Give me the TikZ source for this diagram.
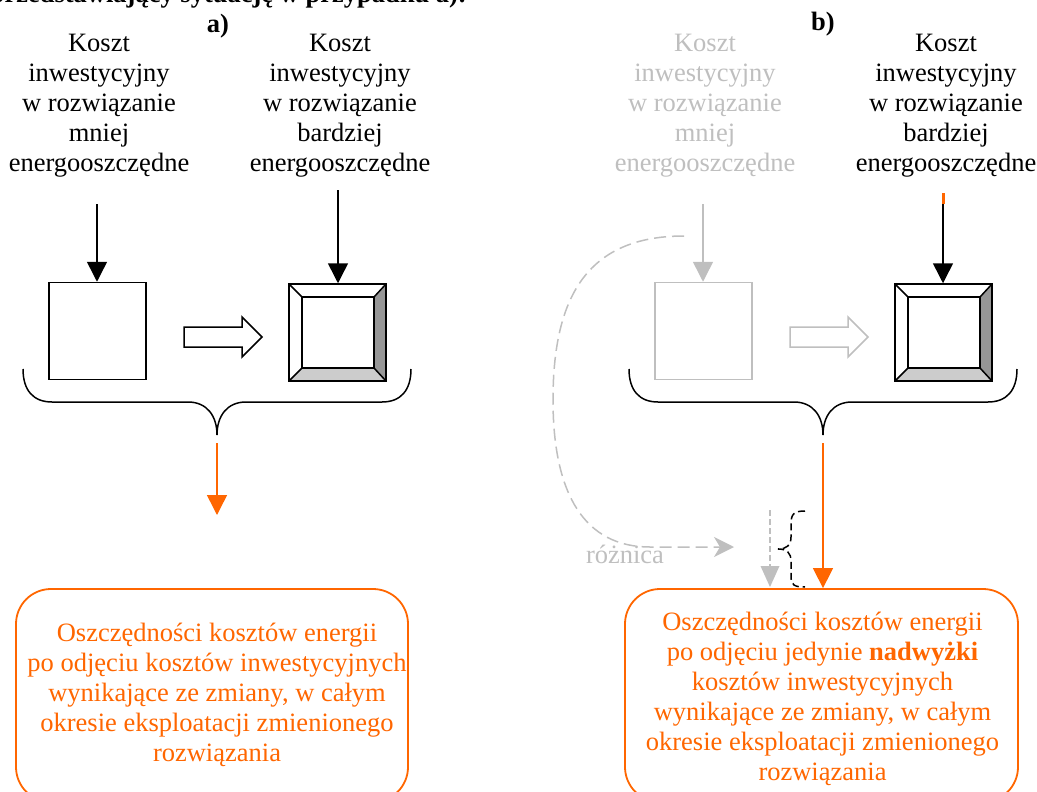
\documentclass[tikz,border=0pt]{standalone}
\usepackage{fontspec}
\setmainfont{Liberation Serif}
\usetikzlibrary{arrows.meta}
\definecolor{org}{HTML}{FF6600}
\definecolor{lg}{HTML}{BFBFBF}
\definecolor{dg}{HTML}{969696}
\definecolor{mg}{HTML}{CCCCCC}
\begin{document}
\begin{tikzpicture}[x=1pt,y=-1pt,line join=miter,
  txt/.style={align=center,inner sep=0pt,font=\fontsize{26.5}{30}\selectfont,anchor=base},
  ttl/.style={inner sep=0pt,font=\fontsize{26.5}{30}\selectfont\bfseries,anchor=base},
  arr/.style={line width=1.5pt,-{Triangle[length=20pt,width=20pt]}},
  sq/.style={draw,line width=1.5pt,inner sep=0pt,minimum width=97pt,minimum height=97pt},
  obox/.style={draw=org,line width=1.8pt,rounded corners=35pt,inner sep=0pt,minimum height=213pt},
  otxt/.style={txt,text=org},
  brc/.style={line width=1.5pt}]
\useasboundingbox (0,0) rectangle (1037,792);
% cut-off heading line at the top
\node[ttl,anchor=base east] (head) at (467,3) {Schemat przedstawiający sytuację w przypadku a):};
\node[ttl] (ta) at (218,33) {a)};
\node[ttl] (tb) at (823,31) {b)};
% ---------- labels (base = last line)
\node[txt] (l1) at (99,171) {Koszt\\inwestycyjny\\w rozwiązanie\\mniej\\energooszczędne};
\node[txt] (l2) at (340,171) {Koszt\\inwestycyjny\\w rozwiązanie\\bardziej\\energooszczędne};
\node[txt,text=lg] (l3) at (705,171) {Koszt\\inwestycyjny\\w rozwiązanie\\mniej\\energooszczędne};
\node[txt] (l4) at (946,171) {Koszt\\inwestycyjny\\w rozwiązanie\\bardziej\\energooszczędne};
% ---------- panel a
\node[sq] (s1) at (97.5,331) {};
\node[sq] (s2) at (337.5,332.5) {};
\coordinate (a1) at (97,204);
\coordinate (a2) at (338,190);
\draw[arr] (a1) -- (a1 |- s1.north);
\draw[arr] (a2) -- (a2 |- s2.north);
\draw[line width=1.5pt] (184,327) -- (242,327) -- (242,317) -- (262,337) -- (242,357) -- (242,347) -- (184,347) -- cycle;
% ---------- panel b
\node[sq,draw=lg] (s3) at (703.5,331) {};
\node[sq] (s4) at (943.5,332.5) {};
\coordinate (b1) at (703,204);
\coordinate (b2) at (943,204);
\coordinate (b2o) at (943,193);
\draw[arr,draw=lg,fill=lg] (b1) -- (b1 |- s3.north);
\draw[org,line width=3pt] (b2o) -- (b2);
\draw[arr] (b2) -- (b2 |- s4.north);
\draw[line width=1.5pt,draw=lg] (790,327) -- (848,327) -- (848,317) -- (868,337) -- (848,357) -- (848,347) -- (790,347) -- cycle;
% ---------- bevels
\foreach \dx in {0,606}{
  \begin{scope}[xshift=\dx]
    \fill[dg] (386,284) -- (386,381) -- (374,368) -- (374,297) -- cycle;
    \fill[mg] (289,381) -- (386,381) -- (374,368) -- (302,368) -- cycle;
    \draw[line width=1.5pt] (302,297) rectangle (374,368);
    \draw[line width=1.5pt] (289,284) -- (302,297) (386,284) -- (374,297)
      (289,381) -- (302,368) (386,381) -- (374,368);
    \draw[line width=1.5pt] (289,284) rectangle (386,381);
  \end{scope}}
% ---------- braces
\foreach \dx in {0,606}{
  \begin{scope}[xshift=\dx]
    \draw[brc] (23,369) .. controls (23,390) and (33,402) .. (52,402) -- (188,402)
      .. controls (207,402) and (217,416) .. (217,435)
      .. controls (217,416) and (227,402) .. (246,402) -- (382,402)
      .. controls (401,402) and (411,390) .. (411,369);
  \end{scope}}
\coordinate (oa) at (217,443);
\coordinate (ob) at (823,443);
% ---------- bottom boxes
\node[obox,minimum width=392pt] (ba) at (212,695.5) {};
\node[obox,minimum width=393pt] (bb) at (821.5,695.5) {};
\draw[arr,org] (oa) -- (217,515);
\draw[arr,org] (ob) -- (ob |- bb.north);
\node[otxt] (ta1) at (217,761) {Oszczędności kosztów energii\\po odjęciu kosztów inwestycyjnych\\wynikające ze zmiany, w całym\\okresie eksploatacji zmienionego\\rozwiązania};
\node[otxt] (tb1) at (822.5,780) {Oszczędności kosztów energii\\po odjęciu jedynie \textbf{nadwyżki}\\kosztów inwestycyjnych\\wynikające ze zmiany, w całym\\okresie eksploatacji zmienionego\\rozwiązania};
% ---------- difference
\coordinate (c0) at (684,236);
\coordinate (c1) at (734,547);
\draw[lg,line width=1.5pt,dash pattern=on 12pt off 6pt,-{Stealth[length=20pt,width=20pt,inset=6pt]}]
  (c0) .. controls (585,236) and (553,300) .. (553,400)
  .. controls (553,495) and (585,547) .. (650,547) -- (c1);
\node[txt,text=lg] (rz) at (625,563) {różnica};
\coordinate (d0) at (770,510);
\draw[lg,line width=1.3pt,dash pattern=on 6pt off 3pt] (d0) -- (770,566);
\fill[lg] (760.5,566) -- (779.5,566) -- (770,587) -- cycle;
\draw[line width=1.5pt,dash pattern=on 7pt off 4pt]
  (805,511) .. controls (794,511) and (791,514) .. (791,524) -- (791,537)
  .. controls (791,545) and (787,549) .. (778,549)
  .. controls (787,549) and (791,553) .. (791,561) -- (791,576)
  .. controls (791,585) and (794,587) .. (805,587);
\end{tikzpicture}
\end{document}
